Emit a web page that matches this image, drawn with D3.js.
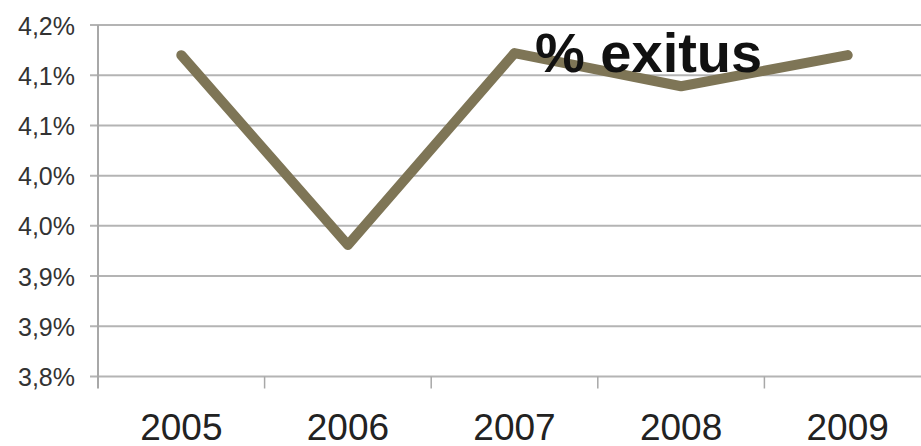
<!DOCTYPE html>
<html>
<head>
<meta charset="utf-8">
<script src="https://cdn.jsdelivr.net/npm/d3@7/dist/d3.min.js"></script>
<style>
  html, body { margin: 0; padding: 0; background: #fff; }
  svg { display: block; }
</style>
</head>
<body>
<svg id="chart" width="921" height="446"></svg>
<script>
// Annual death rate (% exitus)
const years = ["2005", "2006", "2007", "2008", "2009"];
const exitus = [4.170, 3.981, 4.172, 4.139, 4.170];
const yTicks = [3.85, 3.90, 3.95, 4.00, 4.05, 4.10, 4.15, 4.20];
const yTickLabels = ["3,8%", "3,9%", "3,9%", "4,0%", "4,0%", "4,1%", "4,1%", "4,2%"];
const title = "% exitus";

(function () {
  const svg = d3.select("#chart");
  const W = 921;
  const plotLeft = 98, plotRight = 931, plotTop = 25, plotBottom = 376.5;

  const x = d3.scaleBand().domain(years).range([plotLeft, plotRight]).padding(0);
  const y = d3.scaleLinear().domain([3.85, 4.20]).range([plotBottom, plotTop]);

  // horizontal gridlines
  svg.append("g")
    .selectAll("line")
    .data(yTicks)
    .join("line")
    .attr("x1", plotLeft - 8).attr("x2", W)
    .attr("y1", d => y(d)).attr("y2", d => y(d))
    .attr("stroke", "#b4b4b4")
    .attr("stroke-width", 2);

  // y axis labels
  const yAxis = d3.axisLeft(y)
    .tickValues(yTicks)
    .tickFormat((d, i) => yTickLabels[i])
    .tickSize(0)
    .tickPadding(0);
  const gy = svg.append("g").attr("transform", `translate(${plotLeft - 23},0)`).call(yAxis);
  gy.select(".domain").remove();
  gy.selectAll("text")
    .attr("font-family", "Liberation Sans, Arial, sans-serif")
    .attr("font-size", 25)
    .attr("fill", "#333")
    .attr("dy", "0.36em");

  // vertical axis line
  svg.append("line")
    .attr("x1", plotLeft).attr("x2", plotLeft)
    .attr("y1", plotTop).attr("y2", plotBottom + 12)
    .attr("stroke", "#a8a8a8").attr("stroke-width", 2);

  // x axis tick marks at category boundaries
  const boundaries = years.map(d => x(d)).slice(1);
  svg.append("g")
    .selectAll("line")
    .data(boundaries)
    .join("line")
    .attr("x1", d => d).attr("x2", d => d)
    .attr("y1", plotBottom).attr("y2", plotBottom + 12)
    .attr("stroke", "#a8a8a8").attr("stroke-width", 1.5);

  // x axis labels
  const xAxis = d3.axisBottom(x).tickSize(0).tickPadding(0);
  const gx = svg.append("g").attr("transform", `translate(0,${plotBottom})`).call(xAxis);
  gx.select(".domain").remove();
  gx.selectAll("text")
    .attr("font-family", "Liberation Sans, Arial, sans-serif")
    .attr("font-size", 37)
    .attr("fill", "#222")
    .attr("dy", null)
    .attr("y", 63);

  // data line
  const line = d3.line()
    .x((d, i) => x(years[i]) + x.bandwidth() / 2)
    .y(d => y(d));
  svg.append("path")
    .datum(exitus)
    .attr("d", line)
    .attr("fill", "none")
    .attr("stroke", "#7e7556")
    .attr("stroke-width", 10)
    .attr("stroke-linecap", "round")
    .attr("stroke-linejoin", "round");

  // chart title
  svg.append("text")
    .attr("x", 535).attr("y", 72)
    .attr("font-family", "Liberation Sans, Arial, sans-serif")
    .attr("font-weight", "bold")
    .attr("font-size", 56)
    .attr("fill", "#111")
    .text(title);
})();
</script>
</body>
</html>
